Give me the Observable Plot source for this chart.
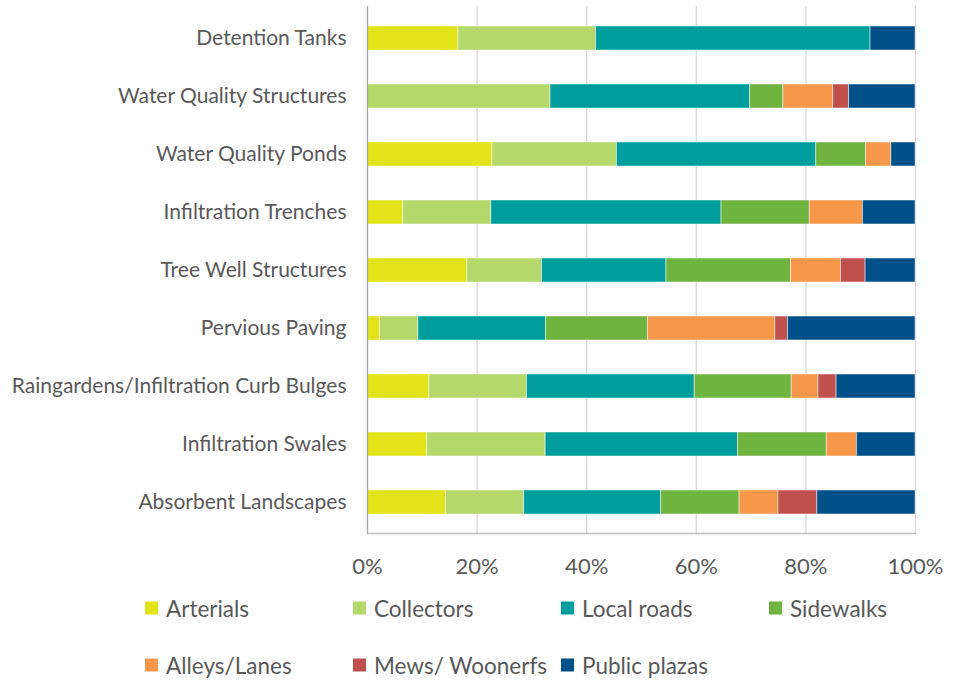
<!DOCTYPE html>
<html>
<head>
<meta charset="utf-8">
<script src="https://cdn.jsdelivr.net/npm/d3@7"></script>
<script src="https://cdn.jsdelivr.net/npm/@observablehq/plot@0.6"></script>
<style>
  html, body { margin: 0; padding: 0; background: white; overflow: hidden; }
  #chart { width: 959px; }
  #legend { position: relative; width: 959px; height: 91px; font-family: Lato, sans-serif; font-size: 22.5px; color: #595959; }
  .item { position: absolute; display: flex; align-items: center; white-space: nowrap; transform: translateY(-50%); }
  .sw { width: 13px; height: 13px; margin-right: 8px; }
</style>
</head>
<body>
<div id="chart"></div>
<div id="legend"></div>
<script>
const categories = [
  "Detention Tanks",
  "Water Quality Structures",
  "Water Quality Ponds",
  "Infiltration Trenches",
  "Tree Well Structures",
  "Pervious Paving",
  "Raingardens/Infiltration Curb Bulges",
  "Infiltration Swales",
  "Absorbent Landscapes"
];
const series = ["Arterials", "Collectors", "Local roads", "Sidewalks", "Alleys/Lanes", "Mews/ Woonerfs", "Public plazas"];
const colors = ["#e2e419", "#b5d86a", "#009d9d", "#6eb43f", "#f7974a", "#c0504d", "#00508a"];

const arterials  = [16.6, 0,    22.8, 6.5,  18.2, 2.3,  11.3, 10.9, 14.3];
const collectors = [25.1, 33.4, 22.7, 16.1, 13.6, 7.0,  17.8, 21.6, 14.3];
const localRoads = [50.1, 36.4, 36.4, 42.0, 22.7, 23.3, 30.6, 35.1, 25.0];
const sidewalks  = [0,    6.1,  9.1,  16.1, 22.7, 18.6, 17.7, 16.2, 14.3];
const alleys     = [0,    9.1,  4.6,  9.7,  9.1,  23.3, 4.9,  5.5,  7.1];
const mews       = [0,    2.9,  0,    0,    4.5,  2.3,  3.3,  0,    7.1];
const plazas     = [8.2,  12.1, 4.4,  9.6,  9.1,  23.3, 14.4, 10.7, 17.9];
const xTicks = [0, 0.2, 0.4, 0.6, 0.8, 1];

const valueArrays = [arterials, collectors, localRoads, sidewalks, alleys, mews, plazas];
const data = [];
categories.forEach((c, i) => {
  series.forEach((s, j) => {
    data.push({category: c, series: s, value: valueArrays[j][i]});
  });
});

const chart = Plot.plot({
  width: 959,
  height: 590,
  marginLeft: 367,
  marginRight: 44,
  marginTop: 6,
  marginBottom: 57,
  style: {fontFamily: "Lato, sans-serif", fontSize: "22px", color: "#595959", background: "white"},
  x: {domain: [0, 1], ticks: xTicks, tickFormat: d3.format(".0%")},
  y: {domain: categories, paddingInner: 0.59, paddingOuter: 0.295},
  color: {domain: series, range: colors},
  marks: [
    Plot.gridX(xTicks.slice(1), {stroke: "#d9d9d9", strokeOpacity: 1, strokeWidth: 1.3}),
    Plot.barX(data, Plot.stackX({
      x: "value", y: "category", fill: "series", order: series, offset: "normalize",
      stroke: "white", strokeWidth: 0.7, strokeOpacity: 0.7
    })),
    Plot.frame({anchor: "bottom", stroke: "#bfbfbf", strokeWidth: 1.3}),
    Plot.ruleX([0], {stroke: "#a6a6a6", strokeWidth: 1.3}),
    Plot.axisX(xTicks, {tickSize: 0, tickPadding: 25, tickFormat: d3.format(".0%"), fontSize: 22, fill: "#595959", label: null}),
    Plot.axisY({tickSize: 0, tickPadding: 21, fontSize: 21, fill: "#595959", label: null})
  ]
});
document.getElementById("chart").appendChild(chart);

const legend = document.getElementById("legend");
series.forEach((s, j) => {
  const col = j % 4, row = Math.floor(j / 4);
  const item = document.createElement("div");
  item.className = "item";
  item.style.left = (145 + 208 * col) + "px";
  item.style.top = (18 + 57 * row) + "px";
  const sw = document.createElement("span");
  sw.className = "sw";
  sw.style.background = colors[j];
  const t = document.createElement("span");
  t.textContent = s;
  item.appendChild(sw);
  item.appendChild(t);
  legend.appendChild(item);
});
</script>
</body>
</html>
